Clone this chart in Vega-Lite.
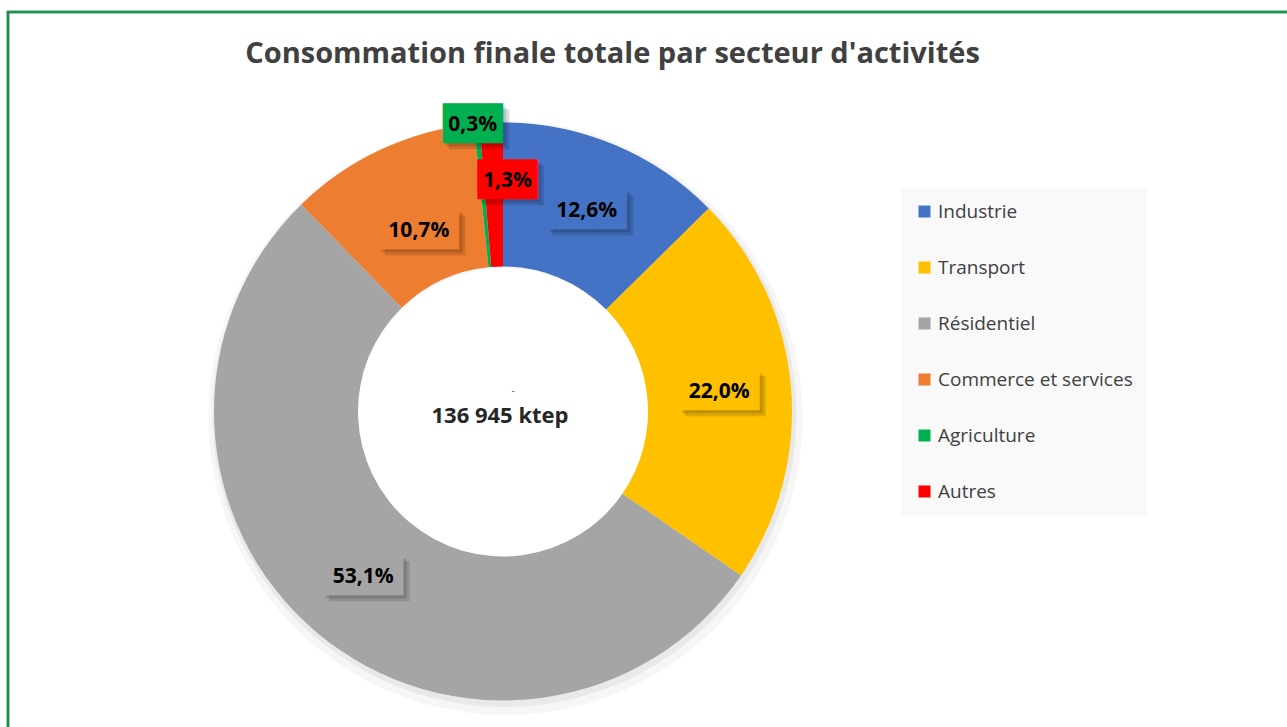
{
  "$schema": "https://vega.github.io/schema/vega-lite/v6.json",
  "width": 1290,
  "height": 718,
  "autosize": {"type": "none"},
  "padding": {"left": 8, "top": 12, "right": -11, "bottom": -3},
  "background": "white",
  "view": {"stroke": "#1F8F4E", "strokeWidth": 2.5},
  "config": {
    "view": {"stroke": "#1F8F4E", "strokeWidth": 2.5},
    "font": "Open Sans",
    "locale": {"number": {"decimal": ",", "thousands": " ", "grouping": [3], "currency": ["", " €"]}},
    "legend": {
      "symbolType": "square",
      "symbolSize": 144,
      "symbolStrokeWidth": 0,
      "symbolOpacity": 1,
      "labelFont": "Open Sans",
      "labelFontSize": 19,
      "labelColor": "#404040",
      "labelOffset": 4,
      "labelLimit": 400,
      "rowPadding": 36,
      "padding": 14,
      "fillColor": "#F9F9F9"
    }
  },
  "title": {
    "text": "Consommation finale totale par secteur d'activités",
    "font": "Open Sans",
    "fontSize": 29,
    "fontWeight": "bold",
    "color": "#404040",
    "anchor": "middle",
    "frame": "group",
    "orient": "top",
    "baseline": "alphabetic",
    "offset": -81,
    "dx": -40.5
  },
  "data": {
    "values": [
      {"secteur": "Industrie", "part": 0.126},
      {"secteur": "Transport", "part": 0.220},
      {"secteur": "Résidentiel", "part": 0.531},
      {"secteur": "Commerce et services", "part": 0.107},
      {"secteur": "Agriculture", "part": 0.003},
      {"secteur": "Autres", "part": 0.013}
    ]
  },
  "transform": [{"window": [{"op": "row_number", "as": "rang"}]}],
  "layer": [
    {
      "data": {"values": [{"cadre": 1}]},
      "transform": [],
      "mark": {"type": "rect", "fill": "#FFFFFF", "fillOpacity": 0, "stroke": "#1F8F4E", "strokeWidth": 2.5},
      "encoding": {}
    },
    {
      "mark": {"type": "arc", "outerRadius": 297, "innerRadius": 150, "xOffset": -147.5, "yOffset": 47, "color": "#000000", "opacity": 0.035},
      "encoding": {
        "theta": {"field": "part", "type": "quantitative", "stack": true},
        "order": {"field": "rang", "type": "quantitative"}
      }
    },
    {
      "mark": {"type": "arc", "outerRadius": 292, "innerRadius": 150, "xOffset": -148.5, "yOffset": 44, "color": "#000000", "opacity": 0.05},
      "encoding": {
        "theta": {"field": "part", "type": "quantitative", "stack": true},
        "order": {"field": "rang", "type": "quantitative"}
      }
    },
    {
      "mark": {"type": "arc", "outerRadius": 289, "innerRadius": 145, "xOffset": -150, "yOffset": 40.5},
      "encoding": {
        "theta": {"field": "part", "type": "quantitative", "stack": true},
        "order": {"field": "rang", "type": "quantitative"},
        "color": {
          "field": "secteur",
          "type": "nominal",
          "scale": {
            "domain": ["Industrie", "Transport", "Résidentiel", "Commerce et services", "Agriculture", "Autres"],
            "range": ["#4472C4", "#FFC000", "#A5A5A5", "#ED7D31", "#00B050", "#FF0000"]
          },
          "legend": {"orient": "none", "legendX": 893, "legendY": 176, "title": null}
        }
      }
    },
    {
      "mark": {
        "type": "text",
        "font": "DejaVu Sans Mono",
        "fontSize": 33.5,
        "align": "center",
        "baseline": "middle",
        "color": "#000000",
        "opacity": 0.13,
        "xOffset": -147,
        "yOffset": 43.5,
        "radius": {"expr": "datum.secteur === 'Agriculture' ? 288 : datum.secteur === 'Autres' ? 231 : datum.secteur === 'Commerce et services' ? 199 : 217"},
        "dx": {"expr": "datum.secteur === 'Autres' ? 14 : datum.secteur === 'Agriculture' ? -4 : 0"}
      },
      "encoding": {
        "theta": {"field": "part", "type": "quantitative", "stack": true},
        "order": {"field": "rang", "type": "quantitative"},
        "text": {"condition": {"test": "datum.part >= 0.1", "value": "▐███▌"}, "value": "▐██▌"}
      }
    },
    {
      "mark": {
        "type": "text",
        "font": "DejaVu Sans Mono",
        "fontSize": 33.5,
        "align": "center",
        "baseline": "middle",
        "color": "#000000",
        "opacity": 0.13,
        "xOffset": -144,
        "yOffset": 46.5,
        "radius": {"expr": "datum.secteur === 'Agriculture' ? 288 : datum.secteur === 'Autres' ? 231 : datum.secteur === 'Commerce et services' ? 199 : 217"},
        "dx": {"expr": "datum.secteur === 'Autres' ? 14 : datum.secteur === 'Agriculture' ? -4 : 0"}
      },
      "encoding": {
        "theta": {"field": "part", "type": "quantitative", "stack": true},
        "order": {"field": "rang", "type": "quantitative"},
        "text": {"condition": {"test": "datum.part >= 0.1", "value": "▐███▌"}, "value": "▐██▌"}
      }
    },
    {
      "mark": {
        "type": "text",
        "font": "DejaVu Sans Mono",
        "fontSize": 33.5,
        "align": "center",
        "baseline": "middle",
        "xOffset": -150,
        "yOffset": 40.5,
        "radius": {"expr": "datum.secteur === 'Agriculture' ? 288 : datum.secteur === 'Autres' ? 231 : datum.secteur === 'Commerce et services' ? 199 : 217"},
        "dx": {"expr": "datum.secteur === 'Autres' ? 14 : datum.secteur === 'Agriculture' ? -4 : 0"}
      },
      "encoding": {
        "theta": {"field": "part", "type": "quantitative", "stack": true},
        "order": {"field": "rang", "type": "quantitative"},
        "text": {"condition": {"test": "datum.part >= 0.1", "value": "▐███▌"}, "value": "▐██▌"},
        "color": {
          "field": "secteur",
          "type": "nominal",
          "scale": {
            "domain": ["Industrie", "Transport", "Résidentiel", "Commerce et services", "Agriculture", "Autres"],
            "range": ["#4472C4", "#FFC000", "#A5A5A5", "#ED7D31", "#00B050", "#FF0000"]
          },
          "legend": {"orient": "none", "legendX": 893, "legendY": 176, "title": null}
        }
      }
    },
    {
      "mark": {
        "type": "text",
        "font": "Open Sans",
        "fontSize": 21,
        "fontWeight": "bold",
        "align": "center",
        "baseline": "middle",
        "color": "#000000",
        "xOffset": -150,
        "yOffset": 40.5,
        "radius": {"expr": "datum.secteur === 'Agriculture' ? 288 : datum.secteur === 'Autres' ? 231 : datum.secteur === 'Commerce et services' ? 199 : 217"},
        "dx": {"expr": "datum.secteur === 'Autres' ? 14 : datum.secteur === 'Agriculture' ? -4 : 0"}
      },
      "encoding": {
        "theta": {"field": "part", "type": "quantitative", "stack": true},
        "order": {"field": "rang", "type": "quantitative"},
        "text": {"field": "part", "type": "quantitative", "format": ".1%"}
      }
    },
    {
      "data": {"values": [{"total": "136 945 ktep", "trait": "-"}]},
      "transform": [],
      "layer": [
        {
          "mark": {"type": "text", "font": "Open Sans", "fontSize": 22, "fontWeight": "bold", "color": "#262626", "align": "center", "baseline": "middle", "xOffset": -153, "yOffset": 44.5},
          "encoding": {"text": {"field": "total", "type": "nominal"}}
        },
        {
          "mark": {"type": "text", "font": "Open Sans", "fontSize": 10, "color": "#595959", "align": "center", "baseline": "middle", "xOffset": -140, "yOffset": 19.5},
          "encoding": {"text": {"field": "trait", "type": "nominal"}}
        }
      ]
    }
  ]
}
